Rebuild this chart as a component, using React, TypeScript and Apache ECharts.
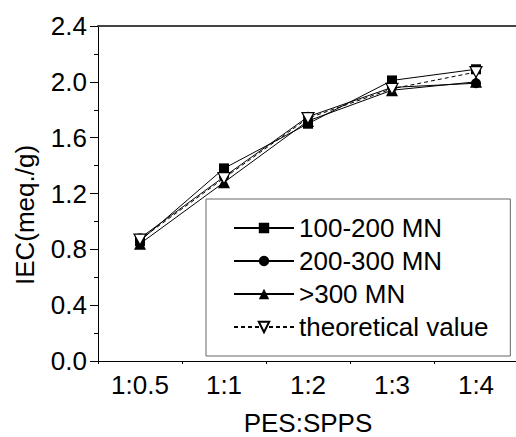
import React, { useEffect, useRef } from "react";
import * as echarts from "echarts";

const categories = ["1:0.5", "1:1", "1:2", "1:3", "1:4"];
const seriesNames = ["100-200 MN", "200-300 MN", ">300 MN", "theoretical value"];
const s100to200 = [0.86, 1.38, 1.7, 2.01, 2.09];
const s200to300 = [0.88, 1.32, 1.75, 1.96, 1.99];
const sOver300 = [0.84, 1.28, 1.72, 1.94, 2.0];
const theoretical = [0.87, 1.31, 1.74, 1.95, 2.07];
const yMin = 0;
const yMax = 2.4;
const yInterval = 0.4;
const xName = "PES:SPPS";
const yName = "IEC(meq./g)";

const FONT = "'Liberation Sans', Arial, Helvetica, sans-serif";
const FS = 26;

export default function App() {
  const ref = useRef<HTMLDivElement>(null);
  useEffect(() => {
    if (!ref.current) return;
    const chart = echarts.init(ref.current, undefined, { renderer: "svg" });
    const axisColor = "#000";
    const lineBase = { color: "#000", width: 1 };
    chart.setOption({
      animation: false,
      backgroundColor: "#fff",
      grid: {
        left: 98,
        top: 26,
        width: 420,
        height: 335,
        containLabel: false,
        outerBoundsMode: "none",
      },
      legend: {
        orient: "vertical",
        left: 206,
        top: 199,
        data: seriesNames,
        itemWidth: 60,
        itemHeight: 13,
        itemGap: 7,
        padding: [16, 22, 16, 27],
        borderColor: "#666",
        borderWidth: 1,
        textStyle: { fontFamily: FONT, fontSize: FS, color: "#000", lineHeight: 26 },
      },
      xAxis: [
        {
          type: "category",
          data: categories,
          position: "bottom",
          boundaryGap: true,
          axisLine: { lineStyle: { color: axisColor, width: 1 } },
          axisTick: { alignWithLabel: true, length: 6, lineStyle: { color: axisColor } },
          axisLabel: { fontFamily: FONT, fontSize: FS, color: "#000", margin: 11 },
          name: xName,
          nameLocation: "middle",
          nameGap: 49,
          nameTextStyle: { fontFamily: FONT, fontSize: FS, color: "#000", lineHeight: 26 },
          splitLine: { show: false },
        },
        {
          type: "category",
          data: categories,
          position: "bottom",
          gridIndex: 0,
          boundaryGap: true,
          axisLine: { show: false },
          axisTick: { show: true, length: 3, lineStyle: { color: axisColor } },
          axisLabel: { show: false },
          splitLine: { show: false },
        },
        {
          type: "category",
          data: categories,
          position: "top",
          axisLine: { show: true, lineStyle: { color: "#444", width: 2 } },
          axisTick: { show: false },
          axisLabel: { show: false },
          splitLine: { show: false },
        },
      ],
      yAxis: {
        type: "value",
        min: yMin,
        max: yMax,
        interval: yInterval,
        axisLine: { show: true, lineStyle: { color: axisColor, width: 1 } },
        axisTick: { show: true, length: 8, lineStyle: { color: axisColor } },
        minorTick: { show: true, splitNumber: 2, length: 4, lineStyle: { color: axisColor } },
        axisLabel: {
          fontFamily: FONT,
          fontSize: FS,
          color: "#000",
          margin: 11,
          formatter: (v: number) => v.toFixed(1),
        },
        splitLine: { show: false },
        minorSplitLine: { show: false },
      },
      graphic: [
        {
          type: "text",
          x: 25,
          y: 215,
          rotation: Math.PI / 2,
          style: {
            text: yName,
            fontFamily: FONT,
            fontSize: FS,
            fill: "#000",
            textAlign: "center",
            textVerticalAlign: "middle",
          },
        },
      ],
      series: [
        {
          name: seriesNames[0],
          type: "line",
          data: s100to200,
          symbol: "rect",
          symbolSize: 10,
          lineStyle: lineBase,
          itemStyle: { color: "#000" },
          z: 3,
        },
        {
          name: seriesNames[1],
          type: "line",
          data: s200to300,
          symbol: "circle",
          symbolSize: 10,
          lineStyle: lineBase,
          itemStyle: { color: "#000" },
          z: 3,
        },
        {
          name: seriesNames[2],
          type: "line",
          data: sOver300,
          symbol: "triangle",
          symbolSize: 12,
          lineStyle: lineBase,
          itemStyle: { color: "#000" },
          z: 3,
        },
        {
          name: seriesNames[3],
          type: "line",
          data: theoretical,
          symbol: "path://M0,0 L10,0 L5,9 Z",
          symbolSize: [12, 11],
          lineStyle: { color: "#000", width: 1, type: [4, 3] },
          itemStyle: { color: "#fff", borderColor: "#000", borderWidth: 1.2 },
          z: 4,
        },
      ],
    });
    return () => chart.dispose();
  }, []);
  return (
    <div
      ref={ref}
      style={{ position: "fixed", left: 0, top: 0, width: 516, height: 437 }}
    />
  );
}
